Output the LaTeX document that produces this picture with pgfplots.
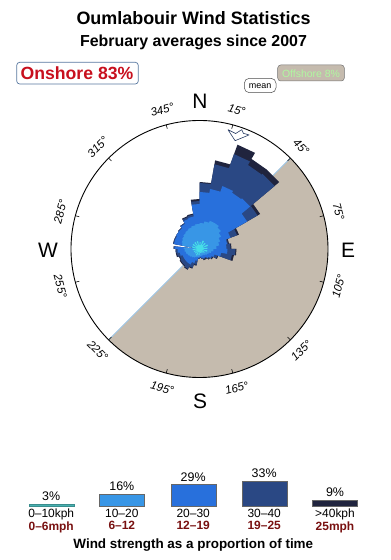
\documentclass[border=0pt]{standalone}
\usepackage{pgfplots}
\pgfplotsset{compat=1.18}
\usepackage{pgfplotstable}
\usepackage{fontspec}
\setmainfont{Liberation Sans}

\definecolor{wz}{RGB}{70,222,232}
\definecolor{wa}{RGB}{56,150,230}
\definecolor{wb}{RGB}{40,112,220}
\definecolor{wc}{RGB}{42,72,132}
\definecolor{wd}{RGB}{32,36,62}
\definecolor{lz}{RGB}{72,176,176}
\definecolor{offsh}{RGB}{197,187,174}
\definecolor{edgeblue}{RGB}{160,200,232}
\definecolor{dred}{RGB}{120,16,16}
\definecolor{onred}{RGB}{200,16,30}
\definecolor{onbox}{RGB}{88,120,160}
\definecolor{arrowc}{RGB}{40,60,100}
\definecolor{offtext}{RGB}{176,248,160}

% compass sector edges (deg) and cumulative radii per speed class
\pgfplotstableread{
ang r1 r2 r3 r4 r5
0 7 26 57 66 67
10 7 26 57 66 67
10 4 28 61 86 90
20 4 28 61 86 90
20 9 30 67 101 111
30 9 30 67 101 111
30 5 30 65 97 104
40 5 30 65 97 104
40 8 28 66 98 104
50 8 28 66 98 104
50 4 25 55 67 70
60 4 25 55 67 70
60 9 22 33 40 42
70 9 22 33 40 42
70 4 20 28 29 30
80 4 20 28 29 30
80 8 17 27 31 32
90 8 17 27 31 32
90 4 14 28 36 37
100 4 14 28 36 37
100 8 12 22 33 35
110 8 12 22 33 35
110 3 10 16 19 20
120 3 10 16 19 20
120 6 9 14 15 16
130 6 9 14 15 16
130 3 8 12 13 14
140 3 8 12 13 14
140 5 7 10 11 12
150 5 7 10 11 12
150 3 7 10 11 12
160 3 7 10 11 12
160 4 7 9 10 10
170 4 7 9 10 10
170 3 7 8 9 9
180 3 7 8 9 9
180 6 8 9 10 10
190 6 8 9 10 10
190 3 8 12 16 17
200 3 8 12 16 17
200 7 9 15 20 21
210 7 9 15 20 21
210 3 10 18 23 24
220 3 10 18 23 24
220 6 11 18 22 23
230 6 11 18 22 23
230 3 12 18 22 23
240 3 12 18 22 23
240 6 13 18 21 22
250 6 13 18 21 22
250 3 14 20 23 24
260 3 14 20 23 24
260 7 15 22 24 24
270 7 15 22 24 24
270 3 16 25 26 26
276 3 16 25 26 26
276 2 6 7 8 8
281 2 6 7 8 8
281 8 18 26 27 27
290 8 18 26 27 27
290 4 19 26 27 27
300 4 19 26 27 27
300 8 20 27 27 27
310 8 20 27 27 27
310 4 21 27 28 28
320 4 21 27 28 28
320 8 22 29 30 30
330 8 22 29 30 30
330 4 23 32 34 35
340 4 23 32 34 35
340 8 24 33 35 36
350 8 24 33 35 36
350 4 25 45 48 50
360 4 25 45 48 50
}\rose

\pgfplotstableread{
ang r
13.4 122.7
17.4 121
19.5 126.6
20.8 123.7
23.5 124.4
18.2 114
13.4 122.7
}\meanarrow

\begin{document}
\begin{tikzpicture}[x=1bp,y=1bp]
\useasboundingbox (0,0) rectangle (390,560);

% offshore sector
\begin{scope}[shift={(199.5,311)}]
\fill[offsh] (0,0) -- (45:128.5) arc[start angle=45,end angle=-135,radius=128.5] -- cycle;
\draw[edgeblue, line width=0.8pt] (45:128.5) -- (-135:128.5);
\end{scope}

\begin{axis}[at={(0bp,0bp)}, anchor=south west, scale only axis,
  width=390bp, height=560bp,
  xmin=-199.5, xmax=190.5, ymin=-311, ymax=249,
  hide axis, clip=false]
\addplot[draw=none, fill=wd] table[x expr={\thisrow{r5}*sin(\thisrow{ang})}, y expr={\thisrow{r5}*cos(\thisrow{ang})}] {\rose};
\addplot[draw=none, fill=wc] table[x expr={\thisrow{r4}*sin(\thisrow{ang})}, y expr={\thisrow{r4}*cos(\thisrow{ang})}] {\rose};
\addplot[draw=none, fill=wb] table[x expr={\thisrow{r3}*sin(\thisrow{ang})}, y expr={\thisrow{r3}*cos(\thisrow{ang})}] {\rose};
\addplot[draw=none, fill=wa] table[x expr={\thisrow{r2}*sin(\thisrow{ang})}, y expr={\thisrow{r2}*cos(\thisrow{ang})}] {\rose};
\addplot[draw=none, fill=wz] table[x expr={\thisrow{r1}*sin(\thisrow{ang})}, y expr={\thisrow{r1}*cos(\thisrow{ang})}] {\rose};
\addplot[fill=white, draw=arrowc, line width=0.6pt, line join=round] table[x expr={\thisrow{r}*sin(\thisrow{ang})}, y expr={\thisrow{r}*cos(\thisrow{ang})}] {\meanarrow};
\end{axis}

% compass circle, ticks, labels
\begin{scope}[shift={(199.5,311)}]
\draw[line width=0.9pt] (0,0) circle[radius=128.5];
\foreach \a in {15,45,...,345} \draw[line width=0.6pt] ({90-\a}:124.5) -- ({90-\a}:128.5);
\foreach \a/\r in {15/-15,45/-45,75/-75,105/75,135/45,165/15,195/-15,225/-45,255/-75,285/75,315/45,345/15}
  \node[rotate=\r, font=\fontsize{11.5}{12}\selectfont\itshape, inner sep=0pt] at ({90-\a}:144) {\a°};
\end{scope}
\node[font=\fontsize{21}{22}\selectfont, inner sep=0pt] at (200,458.5) {N};
\node[font=\fontsize{21}{22}\selectfont, inner sep=0pt] at (348,310) {E};
\node[font=\fontsize{21}{22}\selectfont, inner sep=0pt] at (200,159) {S};
\node[font=\fontsize{21}{22}\selectfont, inner sep=0pt] at (48,310) {W};

% legend bars
\begin{axis}[at={(0bp,53.3bp)}, anchor=south west, scale only axis,
  width=390bp, height=30.4bp,
  xmin=0, xmax=390, ymin=0, ymax=40,
  axis line style={draw=none}, tick style={draw=none}, major tick length=0pt,
  ytick=\empty, clip=false,
  ybar, bar width=45,
  xtick={51.2,121.8,193.2,264.2,335},
  xticklabels={{0–10kph\\\textcolor{dred}{\bfseries 0–6mph}},
               {10–20\\\textcolor{dred}{\bfseries 6–12}},
               {20–30\\\textcolor{dred}{\bfseries 12–19}},
               {30–40\\\textcolor{dred}{\bfseries 19–25}},
               {>40kph\\\textcolor{dred}{\bfseries 25mph}}},
  xticklabel style={font=\fontsize{12}{12.5}\selectfont, align=center, inner sep=2pt},
  /pgf/number format/assume math mode=true,
  nodes near coords={\pgfmathprintnumber{\pgfplotspointmeta}\%},
  nodes near coords style={font=\fontsize{12.5}{14}\selectfont, anchor=south},
]
\addplot[fill=lz, draw=lz!80!black, line width=0.4pt, bar shift=0pt] coordinates {(51.2,3)};
\addplot[fill=wa, draw=black!60, bar shift=0pt] coordinates {(121.8,16)};
\addplot[fill=wb, draw=black!60, bar shift=0pt] coordinates {(193.2,29)};
\addplot[fill=wc, draw=black!60, bar shift=0pt] coordinates {(264.2,33)};
\addplot[fill=wd, draw=black!60, bar shift=0pt] coordinates {(335,9)};
\end{axis}
\node[anchor=base, font=\fontsize{13.5}{15}\selectfont\bfseries] at (193.3,11.7) {Wind strength as a proportion of time};

% titles
\node[anchor=base, font=\fontsize{18}{20}\selectfont\bfseries] at (193.5,535.2) {Oumlabouir Wind Statistics};
\node[anchor=base, font=\fontsize{16}{18}\selectfont\bfseries] at (193.5,513.3) {February averages since 2007};

% onshore / offshore / mean boxes
\draw[onbox, fill=white, line width=0.7pt, rounded corners=3bp] (16.7,476) rectangle (138.3,497.7);
\node[anchor=base, text=onred, font=\fontsize{17.7}{19}\selectfont\bfseries] at (77,480) {Onshore 83\%};
\draw[black!70, fill=white, line width=0.5pt, rounded corners=5bp] (244.3,467.3) rectangle (276,481.7);
\node[anchor=base, font=\fontsize{9}{10}\selectfont] at (260.2,471.7) {mean};
\draw[black!55, fill=offsh, line width=0.5pt, rounded corners=3bp] (277.7,479) rectangle (344.3,495);
\node[anchor=base, text=offtext, font=\fontsize{10.5}{12}\selectfont] at (311,482.7) {Offshore 8\%};
\end{tikzpicture}
\end{document}
